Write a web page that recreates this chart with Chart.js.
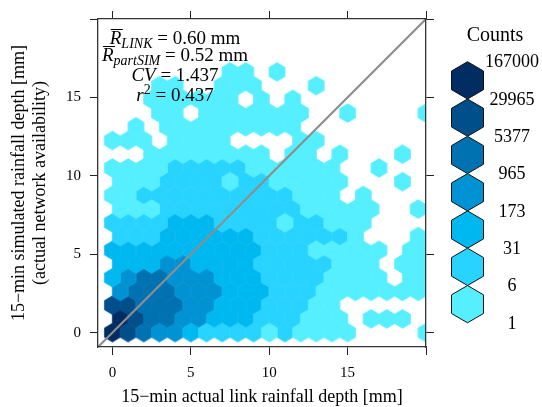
<!DOCTYPE html>
<html>
<head>
<meta charset="utf-8">
<script src="https://cdn.jsdelivr.net/npm/chart.js@4.4.1/dist/chart.umd.min.js"></script>
<style>
  html, body { margin: 0; padding: 0; background: #fff; }
  canvas { display: block; }
</style>
</head>
<body>
<canvas id="chart" width="542" height="407"></canvas>
<script>
// count classes (legend breaks) and their colours, lightest first
const countBreaks = [1, 6, 31, 173, 965, 5377, 29965, 167000];
const levelColors = ['#55efff', '#29d3ff', '#00b8f0', '#0092d2', '#0071b1', '#004e8a', '#012d63'];

// one string per hex row, bottom row first, digit = count class (0 = empty)
// even rows start at x = 0, odd rows at x = 0.5, one bin per unit
const hexRows = [
  '765443222212111100001',
  '76554433322211101110',
  '665554433322211000000',
  '45554443332221111111',
  '345544433322221111011',
  '33344333322222111011',
  '333333333322211111011',
  '22233333322222210001',
  '222233322221221110000',
  '11122222222211111001',
  '112222222222111010000',
  '11122221221111100010',
  '111122222111111001000',
  '00111111110110100010',
  '111011110000110000000',
  '01011111111100000000',
  '000110111111100100001',
  '00111111010100000000',
  '000110011100010000000',
  '00000001101000000000'
];
const binWidth = 1;
const rowStep = 0.875;

const axisMin = -0.92;
const axisMax = 20;
const tickValues = [0, 5, 10, 15, 20];
const tickLabels = ['0', '5', '10', '15', ''];

const xTitle = '15\u2212min actual link rainfall depth [mm]';
const yTitle = ['15\u2212min simulated rainfall depth [mm]', '(actual network availability)'];
const keyTitle = 'Counts';

const statLines = [
  [{ t: 'R', it: true, bar: true }, { t: 'LINK', it: true, sub: true }, { t: ' = 0.60 mm' }],
  [{ t: 'R', it: true, bar: true }, { t: 'partSIM', it: true, sub: true }, { t: ' = 0.52 mm' }],
  [{ t: 'CV', it: true }, { t: ' = 1.437' }],
  [{ t: 'r', it: true }, { t: '2', sup: true }, { t: ' = 0.437' }]
];

const SERIF = '"Liberation Serif", "Times New Roman", serif';

// bin centres per class
const hexData = levelColors.map(() => []);
hexRows.forEach((row, r) => {
  const shift = (r % 2) * binWidth / 2;
  [...row].forEach((ch, k) => {
    const lvl = +ch;
    if (lvl > 0) hexData[lvl - 1].push({ x: k * binWidth + shift, y: r * rowStep });
  });
});

// hexagon point image sized from the scales
const hexCache = {};
function hexImage(chart, color) {
  const xs = chart.scales.x, ys = chart.scales.y;
  if (!xs || !ys) return 'circle';
  const w = Math.abs(xs.getPixelForValue(binWidth) - xs.getPixelForValue(0));
  const h = Math.abs(ys.getPixelForValue(rowStep) - ys.getPixelForValue(0));
  if (!isFinite(w) || !isFinite(h) || w < 1) return 'circle';
  const key = color + w.toFixed(3) + h.toFixed(3);
  if (hexCache[key]) return hexCache[key];
  const grow = 0.45;
  const hw = w / 2 + grow, tip = h * 2 / 3 + grow * 1.15, edge = h / 3 + grow * 0.6;
  const c = document.createElement('canvas');
  c.width = Math.ceil(hw * 2) + 2;
  c.height = Math.ceil(tip * 2) + 2;
  const g = c.getContext('2d');
  const cx = c.width / 2, cy = c.height / 2;
  g.fillStyle = color;
  g.beginPath();
  g.moveTo(cx, cy - tip);
  g.lineTo(cx + hw, cy - edge);
  g.lineTo(cx + hw, cy + edge);
  g.lineTo(cx, cy + tip);
  g.lineTo(cx - hw, cy + edge);
  g.lineTo(cx - hw, cy - edge);
  g.closePath();
  g.fill();
  hexCache[key] = c;
  return c;
}

const hexSets = hexData.map((pts, i) => ({
  type: 'scatter',
  data: pts,
  xAxisID: 'x',
  yAxisID: 'y',
  pointStyle: ctx => hexImage(ctx.chart, levelColors[i]),
  pointRadius: 9,
  pointHoverRadius: 9,
  clip: 0,
  order: 1 + i
}));

const oneToOne = {
  type: 'line',
  data: [{ x: axisMin, y: axisMin }, { x: axisMax, y: axisMax }],
  xAxisID: 'x',
  yAxisID: 'y',
  borderColor: '#8e8e8e',
  borderWidth: 2.2,
  pointRadius: 0,
  fill: false,
  clip: 0,
  order: 0
};

function axis(position, size, labels) {
  const horiz = position === 'top' || position === 'bottom';
  return {
    type: 'linear',
    position: position,
    min: axisMin,
    max: axisMax,
    afterBuildTicks: s => { s.ticks = tickValues.map(v => ({ value: v })); },
    afterFit: s => { if (horiz) s.height = size; else s.width = size; },
    grid: { drawOnChartArea: false, drawTicks: true, tickLength: 8, color: '#222', lineWidth: 1 },
    border: { display: true, color: '#333', width: 1.3, z: 1 },
    ticks: {
      display: labels,
      autoSkip: false,
      maxRotation: 0,
      padding: 9,
      color: '#000',
      font: { family: SERIF, size: 15 },
      callback: (v, i) => tickLabels[i]
    }
  };
}

const scaleX = axis('bottom', 60, true);
scaleX.title = { display: true, text: xTitle, color: '#000', padding: { top: 0, bottom: 0 },
  font: { family: SERIF, size: 18, lineHeight: 1.1 } };
const scaleY = axis('left', 98, true);
scaleY.title = { display: true, text: yTitle, color: '#000', padding: { top: 9, bottom: 0 },
  font: { family: SERIF, size: 18, lineHeight: 1.15 } };

function drawStats(g) {
  const cx = 175;
  const baselines = [43.5, 60.5, 81, 101];
  const fontOf = s => {
    const size = (s.sub || s.sup) ? 14 : 19;
    return (s.it ? 'italic ' : '') + size + 'px ' + SERIF;
  };
  g.save();
  g.fillStyle = '#000';
  g.strokeStyle = '#000';
  g.textBaseline = 'alphabetic';
  g.textAlign = 'left';
  statLines.forEach((segs, li) => {
    let total = 0;
    const widths = segs.map(s => { g.font = fontOf(s); const w = g.measureText(s.t).width; total += w; return w; });
    let x = cx - total / 2;
    const base = baselines[li];
    segs.forEach((s, si) => {
      g.font = fontOf(s);
      const y = base + (s.sub ? 4.5 : 0) - (s.sup ? 7.5 : 0);
      g.fillText(s.t, x, y);
      if (s.bar) {
        g.lineWidth = 1;
        g.beginPath();
        g.moveTo(x + 1, base - 14);
        g.lineTo(x + widths[si] + 1.5, base - 14);
        g.stroke();
      }
      x += widths[si];
    });
  });
  g.restore();
}

function drawKey(g) {
  const cx = 467.5, top = 61.7, step = 37.3, hw = 16;
  const n = levelColors.length;
  g.save();
  g.fillStyle = '#000';
  g.font = '20px ' + SERIF;
  g.textAlign = 'center';
  g.textBaseline = 'middle';
  g.fillText(keyTitle, 495, 36);
  for (let k = 0; k < n; k++) {
    const t = top + k * step;
    g.beginPath();
    g.moveTo(cx, t);
    g.lineTo(cx + hw, t + step / 4);
    g.lineTo(cx + hw, t + step * 3 / 4);
    g.lineTo(cx, t + step);
    g.lineTo(cx - hw, t + step * 3 / 4);
    g.lineTo(cx - hw, t + step / 4);
    g.closePath();
    g.fillStyle = levelColors[n - 1 - k];
    g.fill();
    g.lineWidth = 1;
    g.strokeStyle = '#111';
    g.stroke();
  }
  g.fillStyle = '#000';
  g.font = '18px ' + SERIF;
  for (let k = 0; k <= n; k++) {
    g.fillText(String(countBreaks[n - k]), 512, top + k * step + 1);
  }
  g.restore();
}

const overlay = {
  id: 'overlay',
  afterDraw(chart) {
    drawStats(chart.ctx);
    drawKey(chart.ctx);
  }
};

new Chart(document.getElementById('chart'), {
  data: { datasets: [oneToOne, ...hexSets] },
  options: {
    responsive: false,
    animation: false,
    devicePixelRatio: 1,
    layout: { padding: 0 },
    plugins: { legend: { display: false }, tooltip: { enabled: false } },
    scales: {
      x: scaleX,
      y: scaleY,
      x2: axis('top', 19, false),
      y2: axis('right', 116, false)
    }
  },
  plugins: [overlay]
});
</script>
</body>
</html>
